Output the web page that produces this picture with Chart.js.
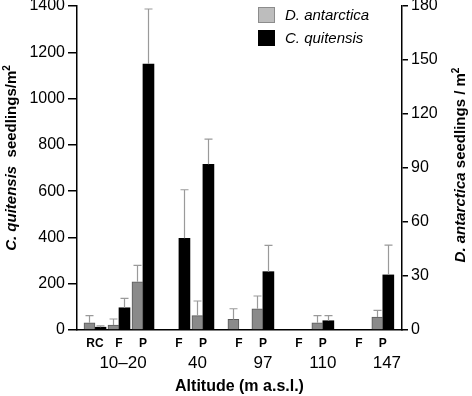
<!DOCTYPE html>
<html>
<head>
<meta charset="utf-8">
<script src="https://cdn.jsdelivr.net/npm/chart.js@4/dist/chart.umd.min.js"></script>
<style>
html,body{margin:0;padding:0;background:#fff;}
#wrap{width:472px;height:396px;position:relative;}
</style>
</head>
<body>
<div id="wrap"><canvas id="c" width="472" height="396"></canvas></div>
<script>
// ---- data ----
const categories = ['RC', 'F', 'P', 'F', 'P', 'F', 'P', 'F', 'P', 'F', 'P'];
const categoryGroup = [0, 0, 0, 1, 1, 2, 2, 3, 3, 4, 4];
const altitudes = ['10–20', '40', '97', '110', '147'];
// D. antarctica seedlings / m² (right axis)
const dAntarctica   = [4.0, 2.8, 26.8, 0, 8.0, 5.9, 11.8, 0, 4.0, 0, 7.2];
const dAntarcticaSE = [4.0, 3.3, 9.1, 0, 8.1, 5.9, 7.1, 0, 4.0, 0, 3.7];
// C. quitensis seedlings / m² (left axis)
const cQuitensis    = [12, 96, 1149, 396, 716, 0, 252, 0, 40, 0, 238];
const cQuitensisSE  = [6, 41, 238, 210, 109, 0, 114, 0, 22, 0, 129];
const leftTicks = [0, 200, 400, 600, 800, 1000, 1200, 1400];
const rightTicks = [0, 30, 60, 90, 120, 150, 180];

// ---- layout helpers ----
const GROUP_GAP = 0.5;
const catPos = categories.map((c, i) => i + categoryGroup[i] * GROUP_GAP);
const groupLabelShift = [-0.83, -0.23, 0, 0, 0.17];
const groupPos = altitudes.map((a, g) => {
  const idx = categoryGroup.map((v, i) => v === g ? i : -1).filter(i => i >= 0);
  return catPos[idx[idx.length - 1]] + groupLabelShift[g];
});

const FONT = "'Liberation Sans', Arial, Helvetica, sans-serif";
const GRAY = '#8a8a8a';

const errorBars = {
  id: 'errorBars',
  afterDatasetsDraw(chart) {
    const ctx = chart.ctx;
    const errs = [dAntarcticaSE, cQuitensisSE];
    const vals = [dAntarctica, cQuitensis];
    ctx.save();
    ctx.strokeStyle = '#9a9a9a';
    ctx.lineWidth = 1.2;
    chart.data.datasets.forEach((ds, di) => {
      const meta = chart.getDatasetMeta(di);
      const ys = chart.scales[ds.yAxisID];
      meta.data.forEach((bar, j) => {
        const v = vals[di][j], e = errs[di][j];
        if (!v || !e) return;
        const top = ys.getPixelForValue(v + e);
        const x = Math.round(bar.x) + 0.5;
        ctx.beginPath();
        ctx.moveTo(x, bar.y);
        ctx.lineTo(x, top);
        ctx.moveTo(x - 4, top);
        ctx.lineTo(x + 4, top);
        ctx.stroke();
      });
    });
    ctx.restore();
  }
};

function drawMixed(ctx, parts, cx, cy) {
  let total = 0;
  parts.forEach(p => { ctx.font = p.font; p.w = ctx.measureText(p.text).width; total += p.w; });
  let x = -total / 2;
  ctx.save();
  ctx.translate(cx, cy);
  ctx.rotate(-Math.PI / 2);
  ctx.textBaseline = 'middle';
  ctx.textAlign = 'left';
  ctx.fillStyle = '#000';
  parts.forEach(p => {
    ctx.font = p.font;
    ctx.fillText(p.text, x, p.sup ? -5 : 0);
    x += p.w;
  });
  ctx.restore();
}

const extras = {
  id: 'extras',
  afterDraw(chart) {
    const ctx = chart.ctx;
    drawMixed(ctx, [
      {text: 'C. quitensis', font: 'italic bold 15px ' + FONT},
      {text: '  seedlings/m', font: 'bold 15px ' + FONT},
      {text: '2', font: 'bold 10px ' + FONT, sup: true}
    ], 12, 158);
    drawMixed(ctx, [
      {text: 'D. antarctica', font: 'italic bold 15px ' + FONT},
      {text: ' seedlings / m', font: 'bold 15px ' + FONT},
      {text: '2', font: 'bold 10px ' + FONT, sup: true}
    ], 461, 165);
    const items = [
      {label: chart.data.datasets[0].label, fill: '#bdbdbd', stroke: '#8c8c8c', y: 7},
      {label: chart.data.datasets[1].label, fill: '#000', stroke: '#000', y: 30}
    ];
    ctx.save();
    items.forEach(it => {
      ctx.fillStyle = it.fill;
      ctx.strokeStyle = it.stroke;
      ctx.lineWidth = 1;
      ctx.fillRect(258.5, it.y + 0.5, 16, 15);
      ctx.strokeRect(258.5, it.y + 0.5, 16, 15);
      ctx.fillStyle = '#000';
      ctx.font = 'italic 15px ' + FONT;
      ctx.textBaseline = 'middle';
      ctx.textAlign = 'left';
      ctx.fillText(it.label, 285, it.y + 8.5);
    });
    ctx.restore();
  }
};

const noPadV = s => { s.paddingTop = 0; s.paddingBottom = 0; };
const noPadH = s => { s.paddingLeft = 0; s.paddingRight = 0; };

new Chart(document.getElementById('c'), {
  type: 'bar',
  data: {
    datasets: [
      {
        label: 'D. antarctica',
        data: dAntarctica.map((v, i) => ({x: catPos[i], y: v})),
        backgroundColor: GRAY,
        borderColor: '#5a5a5a',
        borderWidth: 1,
        yAxisID: 'yR',
        xAxisID: 'x',
        barThickness: 11
      },
      {
        label: 'C. quitensis',
        data: cQuitensis.map((v, i) => ({x: catPos[i], y: v})),
        backgroundColor: '#000',
        borderColor: '#000',
        borderWidth: 0,
        yAxisID: 'y',
        xAxisID: 'x',
        barThickness: 11
      }
    ]
  },
  options: {
    responsive: false,
    animation: false,
    layout: {padding: {top: 6, left: 0, right: 0, bottom: 0}, autoPadding: false},
    plugins: {legend: {display: false}, tooltip: {enabled: false}},
    scales: {
      x: {
        type: 'linear', position: 'bottom', min: -0.75, max: 12.8, offset: false,
        grid: {display: false, drawTicks: false},
        border: {display: true, color: '#000', width: 1.5},
        afterBuildTicks: s => { s.ticks = catPos.map(v => ({value: v})); },
        afterFit: s => { s.height = 20; noPadH(s); },
        ticks: {
          autoSkip: false, maxRotation: 0, padding: 6, color: '#000',
          font: {family: FONT, size: 12, weight: 'bold'},
          callback: (v, i) => categories[i]
        }
      },
      xg: {
        type: 'linear', position: 'bottom', min: -0.75, max: 12.8, offset: false,
        grid: {display: false, drawTicks: false},
        border: {display: false},
        afterBuildTicks: s => { s.ticks = groupPos.map(v => ({value: v})); },
        afterFit: s => { s.height = 46; noPadH(s); },
        ticks: {
          autoSkip: false, maxRotation: 0, padding: 3, color: '#000',
          font: {family: FONT, size: 17},
          callback: (v, i) => altitudes[i]
        },
        title: {
          display: true, text: 'Altitude (m a.s.l.)', color: '#000',
          font: {family: FONT, size: 16, weight: 'bold'}, padding: {top: 5, bottom: 0}
        }
      },
      y: {
        type: 'linear', position: 'left', min: 0, max: 1400,
        grid: {drawOnChartArea: false, drawTicks: true, tickLength: 9, color: '#000', lineWidth: 1.5},
        border: {display: true, color: '#000', width: 1.5},
        afterBuildTicks: s => { s.ticks = leftTicks.map(v => ({value: v})); },
        afterFit: s => { s.width = 77; noPadV(s); },
        ticks: {padding: 3, color: '#000', font: {family: FONT, size: 16}, callback: v => String(v)}
      },
      yR: {
        type: 'linear', position: 'right', min: 0, max: 180,
        grid: {drawOnChartArea: false, drawTicks: true, tickLength: 6, color: '#000', lineWidth: 1.5},
        border: {display: true, color: '#000', width: 1.5},
        afterBuildTicks: s => { s.ticks = rightTicks.map(v => ({value: v})); },
        afterFit: s => { s.width = 70; noPadV(s); },
        ticks: {padding: 3, color: '#000', font: {family: FONT, size: 16}, callback: v => String(v)}
      }
    }
  },
  plugins: [errorBars, extras]
});
</script>
</body>
</html>
